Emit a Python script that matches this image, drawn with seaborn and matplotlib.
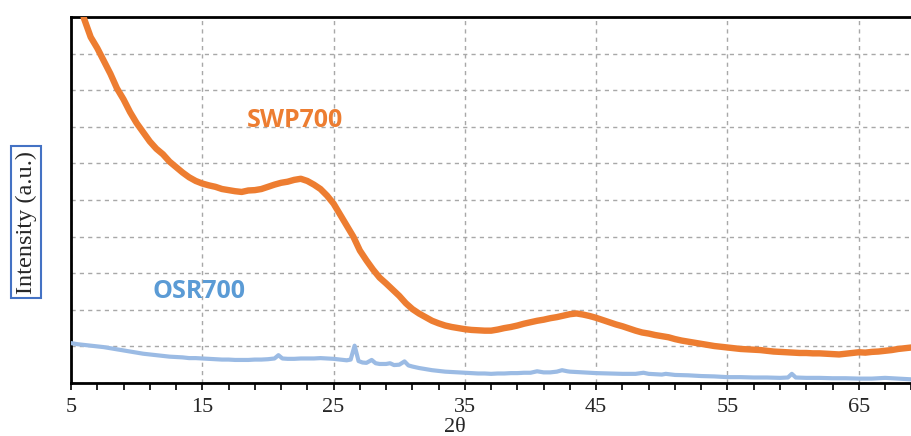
import matplotlib
matplotlib.use("Agg")
import matplotlib.pyplot as plt
import seaborn as sns
import pandas as pd
import numpy as np
from matplotlib.ticker import FixedLocator, NullFormatter

# ---- data (intensity in grid units, arbitrary) ----
swp_x = [5.0, 5.5, 6.0, 6.5, 7.0, 7.5, 8.0, 8.5, 9.0, 9.5, 10.0, 10.5, 11.0, 11.5, 12.0, 12.5,
         13.0, 13.5, 14.0, 14.5, 15.0, 15.5, 16.0, 16.5, 17.0, 17.5, 18.0, 18.5, 19.0, 19.5,
         20.0, 20.5, 21.0, 21.5, 22.0, 22.5, 23.0, 23.5, 24.0, 24.5, 25.0, 25.5, 26.0, 26.5,
         27.0, 27.5, 28.0, 28.5, 29.0, 29.5, 30.0, 30.5, 31.0, 31.5, 32.0, 32.5, 33.0, 33.5,
         34.0, 34.5, 35.0, 35.5, 36.0, 36.5, 37.0, 37.5, 38.0, 38.5, 39.0, 39.5, 40.0, 40.5,
         41.0, 41.5, 42.0, 42.5, 43.0, 43.5, 44.0, 44.5, 45.0, 45.5, 46.0, 46.5, 47.0, 47.5,
         48.0, 48.5, 49.0, 49.5, 50.0, 50.5, 51.0, 51.5, 52.0, 52.5, 53.0, 53.5, 54.0, 54.5,
         55.0, 55.5, 56.0, 56.5, 57.0, 57.5, 58.0, 58.5, 59.0, 59.5, 60.0, 60.5, 61.0, 61.5,
         62.0, 62.5, 63.0, 63.5, 64.0, 64.5, 65.0, 65.5, 66.0, 66.5, 67.0, 67.5, 68.0, 68.5, 69.0]
swp_y = [11.4, 10.7, 9.95, 9.45, 9.15, 8.8, 8.45, 8.05, 7.75, 7.4, 7.1, 6.85, 6.6, 6.4, 6.25, 6.05,
         5.9, 5.75, 5.62, 5.52, 5.45, 5.4, 5.36, 5.3, 5.27, 5.24, 5.22, 5.26, 5.27, 5.3,
         5.36, 5.42, 5.47, 5.5, 5.55, 5.58, 5.52, 5.42, 5.3, 5.12, 4.9, 4.6, 4.3, 4.0,
         3.62, 3.35, 3.1, 2.88, 2.72, 2.55, 2.38, 2.18, 2.02, 1.9, 1.8, 1.7, 1.63, 1.57,
         1.53, 1.5, 1.47, 1.45, 1.44, 1.43, 1.43, 1.46, 1.5, 1.53, 1.57, 1.62, 1.66, 1.7,
         1.73, 1.77, 1.8, 1.84, 1.88, 1.9, 1.87, 1.83, 1.78, 1.72, 1.66, 1.6, 1.55, 1.49,
         1.43, 1.38, 1.35, 1.31, 1.28, 1.25, 1.2, 1.16, 1.13, 1.1, 1.07, 1.04, 1.01, 0.99,
         0.97, 0.95, 0.93, 0.92, 0.91, 0.9, 0.88, 0.86, 0.85, 0.84, 0.83, 0.82, 0.82, 0.81,
         0.81, 0.8, 0.79, 0.78, 0.8, 0.82, 0.84, 0.83, 0.85, 0.86, 0.88, 0.9, 0.93, 0.95, 0.97]

osr_x = [5.0, 5.5, 6.0, 6.5, 7.0, 7.5, 8.0, 8.5, 9.0, 9.5, 10.0, 10.5, 11.0, 11.5, 12.0, 12.5,
         13.0, 13.5, 14.0, 14.5, 15.0, 15.5, 16.0, 16.5, 17.0, 17.5, 18.0, 18.5, 19.0, 19.5,
         20.0, 20.5, 20.8, 21.1, 21.5, 22.0, 22.5, 23.0, 23.5, 24.0, 24.5, 25.0, 25.5, 26.0,
         26.3, 26.6, 26.9, 27.2, 27.5, 27.9, 28.2, 28.5, 29.0, 29.3, 29.6, 30.0, 30.4, 30.7,
         31.0, 31.5, 32.0, 32.5, 33.0, 33.5, 34.0, 34.5, 35.0, 35.5, 36.0, 36.5, 37.0, 37.5,
         38.0, 38.5, 39.0, 39.5, 40.0, 40.5, 41.0, 41.5, 42.0, 42.4, 42.8, 43.0, 43.5, 44.0,
         44.5, 45.0, 46.0, 47.0, 48.0, 48.6, 49.0, 50.0, 50.3, 51.0, 52.0, 53.0, 54.0, 55.0,
         56.0, 57.0, 58.0, 59.0, 59.6, 59.9, 60.2, 61.0, 62.0, 63.0, 64.0, 65.0, 66.0, 67.0,
         68.0, 69.0]
osr_y = [1.09, 1.06, 1.04, 1.02, 1.0, 0.98, 0.95, 0.92, 0.89, 0.86, 0.83, 0.8, 0.78, 0.76, 0.74, 0.72,
         0.71, 0.7, 0.68, 0.68, 0.67, 0.66, 0.65, 0.64, 0.64, 0.63, 0.63, 0.63, 0.64, 0.64,
         0.65, 0.67, 0.76, 0.67, 0.66, 0.66, 0.67, 0.67, 0.67, 0.68, 0.67, 0.66, 0.64, 0.62,
         0.64, 1.02, 0.6, 0.56, 0.55, 0.63, 0.54, 0.52, 0.52, 0.54, 0.49, 0.5, 0.59, 0.48,
         0.45, 0.41, 0.38, 0.35, 0.33, 0.31, 0.3, 0.29, 0.28, 0.27, 0.26, 0.26, 0.25, 0.26,
         0.26, 0.27, 0.27, 0.28, 0.28, 0.32, 0.29, 0.29, 0.31, 0.35, 0.32, 0.31, 0.3, 0.29,
         0.28, 0.27, 0.26, 0.25, 0.25, 0.28, 0.25, 0.23, 0.25, 0.22, 0.21, 0.19, 0.18, 0.16,
         0.16, 0.15, 0.15, 0.14, 0.15, 0.25, 0.15, 0.14, 0.14, 0.13, 0.13, 0.12, 0.12, 0.14,
         0.12, 0.1]

x_tick_labels = [5, 15, 25, 35, 45, 55, 65]
series_names = ["SWP700", "OSR700"]

# ---- style ----
sns.set_style("white")
plt.rcParams["font.family"] = ["Liberation Serif", "DejaVu Serif"]

fig = plt.figure(figsize=(9.12, 4.36), dpi=100)
ax = fig.add_axes([71 / 912, 53 / 436, 1 - 71 / 912, (383 - 17) / 436])

df_swp = pd.DataFrame({"x": swp_x, "y": swp_y})
df_osr = pd.DataFrame({"x": osr_x, "y": osr_y})

sns.lineplot(data=df_osr, x="x", y="y", ax=ax, color="#9BBBE4", linewidth=3.0, zorder=3)
sns.lineplot(data=df_swp, x="x", y="y", ax=ax, color="#ED7D31", linewidth=4.6, zorder=4)

ax.set_xlim(5, 5 + 841 / 13.13)
ax.set_ylim(0, 10)

ax.xaxis.set_major_locator(FixedLocator(x_tick_labels))
ax.xaxis.set_minor_locator(FixedLocator(np.arange(5, 70, 2)))
ax.xaxis.set_minor_formatter(NullFormatter())
ax.set_xticklabels([str(v) for v in x_tick_labels])
ax.yaxis.set_major_locator(FixedLocator(np.arange(0, 10.1, 1)))
ax.set_yticklabels([])
ax.tick_params(axis="y", length=0)
ax.tick_params(axis="x", which="both", direction="out", length=5, width=1.2,
               color="black", bottom=True, labelsize=16, pad=6)

ax.grid(True, which="major", axis="both", color="#A8A8A8", linestyle=(0, (3, 3)), linewidth=1)
ax.set_axisbelow(True)

for side in ["left", "bottom", "top"]:
    ax.spines[side].set_visible(True)
    ax.spines[side].set_color("black")
    ax.spines[side].set_linewidth(2)
ax.spines["right"].set_visible(False)

ax.set_xlabel("")
ax.set_ylabel("")

fig.text(455 / 912, 1 - 427 / 436, "2θ", ha="center", va="center", fontsize=16)
fig.text(26 / 912, 1 - 222 / 436, "Intensity (a.u.)", rotation=90, ha="center", va="center",
         fontsize=17.5,
         bbox=dict(boxstyle="square,pad=0.2", facecolor="white", edgecolor="#4472C4", linewidth=1.5))

ax.text(22.06, 7.16, series_names[0], color="#ED7D31", fontsize=18, fontweight="bold",
        family=["Open Sans", "DejaVu Sans"], ha="center", va="center")
ax.text(14.75, 2.49, series_names[1], color="#5B9BD5", fontsize=18, fontweight="bold",
        family=["Open Sans", "DejaVu Sans"], ha="center", va="center")

fig.savefig("out.png", dpi=100)
